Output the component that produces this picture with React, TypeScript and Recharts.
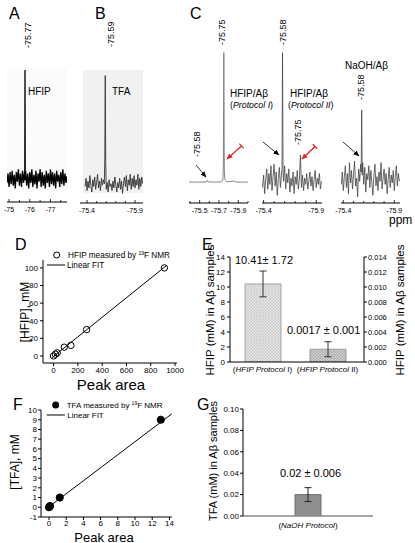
import React from 'react';
import { LineChart, Line, XAxis, YAxis, ComposedChart, Scatter, BarChart, Bar, ErrorBar } from 'recharts';

const FONT = '"Liberation Sans", Arial, Helvetica, sans-serif';

// ---------- 19F NMR spectra: [ppm, intensity (0-100 relative)] ----------
const SPEC_A: [number, number][] = [
  [-74.9, 14], [-74.95, 21], [-75.0, 11], [-75.05, 22], [-75.1, 13], [-75.15, 23], [-75.2, 12], [-75.25, 20],
  [-75.3, 10], [-75.35, 22], [-75.4, 15], [-75.45, 24], [-75.5, 12], [-75.55, 21], [-75.6, 11], [-75.65, 23],
  [-75.7, 14], [-75.75, 22], [-75.76, 19], [-75.77, 97], [-75.78, 16], [-75.8, 23], [-75.85, 12], [-75.9, 21],
  [-75.95, 10], [-76.0, 22], [-76.05, 14], [-76.1, 24], [-76.15, 11], [-76.2, 20], [-76.25, 13], [-76.3, 23],
  [-76.35, 10], [-76.4, 21], [-76.45, 15], [-76.5, 24], [-76.55, 11], [-76.6, 22], [-76.65, 12], [-76.7, 20],
  [-76.75, 10], [-76.8, 23], [-76.85, 14], [-76.9, 21], [-76.95, 11], [-77.0, 24], [-77.05, 13], [-77.1, 22],
  [-77.15, 12], [-77.2, 21], [-77.25, 10], [-77.3, 23], [-77.35, 15], [-77.4, 20], [-77.45, 11], [-77.5, 22],
  [-77.55, 13], [-77.6, 24], [-77.65, 12], [-77.7, 21], [-77.75, 14], [-77.8, 19],
];

const SPEC_B: [number, number][] = [
  [-75.38, 12], [-75.39, 18], [-75.4, 9], [-75.41, 16], [-75.42, 11], [-75.43, 20], [-75.44, 13], [-75.45, 8],
  [-75.46, 17], [-75.47, 12], [-75.48, 19], [-75.49, 10], [-75.5, 15], [-75.51, 21], [-75.52, 11], [-75.53, 16],
  [-75.54, 9], [-75.55, 18], [-75.56, 13], [-75.57, 17], [-75.58, 14], [-75.585, 30], [-75.59, 93], [-75.595, 28],
  [-75.6, 10], [-75.61, 15], [-75.62, 8], [-75.63, 17], [-75.64, 12], [-75.65, 14], [-75.66, 9], [-75.67, 16],
  [-75.68, 11], [-75.69, 19], [-75.7, 13], [-75.71, 8], [-75.72, 15], [-75.73, 11], [-75.74, 18], [-75.75, 10],
  [-75.76, 16], [-75.77, 7], [-75.78, 14], [-75.79, 19], [-75.8, 12], [-75.81, 20], [-75.82, 9], [-75.83, 17],
  [-75.84, 13], [-75.85, 21], [-75.86, 10], [-75.87, 18], [-75.88, 12], [-75.89, 20], [-75.9, 11], [-75.91, 17],
  [-75.92, 13], [-75.93, 21], [-75.94, 10], [-75.95, 18], [-75.96, 12], [-75.97, 19], [-75.98, 14],
];

const SPEC_C1: [number, number][] = [
  [-75.39, 13.5], [-75.5, 13.5], [-75.57, 13.6], [-75.58, 14.6], [-75.59, 13.6], [-75.66, 13.5], [-75.72, 13.6],
  [-75.74, 15], [-75.745, 22], [-75.75, 97], [-75.755, 22], [-75.76, 15], [-75.78, 13.6], [-75.85, 14.2],
  [-75.88, 13.5], [-76.0, 13.5],
];

const SPEC_C2: [number, number][] = [
  [-75.39, 10], [-75.4, 18], [-75.41, 6], [-75.42, 15], [-75.43, 22], [-75.44, 9], [-75.45, 19], [-75.46, 12],
  [-75.47, 24], [-75.48, 8], [-75.49, 17], [-75.5, 25], [-75.51, 11], [-75.52, 20], [-75.53, 5], [-75.54, 16],
  [-75.55, 23], [-75.56, 10], [-75.57, 18], [-75.575, 22], [-75.58, 97], [-75.585, 20], [-75.59, 14], [-75.6, 24],
  [-75.61, 9], [-75.62, 19], [-75.63, 13], [-75.64, 22], [-75.65, 7], [-75.66, 16], [-75.67, 11], [-75.68, 20],
  [-75.69, 6], [-75.7, 17], [-75.71, 12], [-75.72, 21], [-75.73, 9], [-75.74, 15], [-75.75, 31], [-75.76, 10],
  [-75.77, 18], [-75.78, 8], [-75.79, 16], [-75.8, 12], [-75.81, 19], [-75.82, 9], [-75.83, 14], [-75.84, 20],
  [-75.85, 11], [-75.86, 17], [-75.87, 8], [-75.88, 15], [-75.89, 21], [-75.9, 10], [-75.91, 16], [-75.92, 12],
  [-75.93, 19], [-75.94, 9], [-75.95, 14],
];

const SPEC_C3: [number, number][] = [
  [-75.38, 12], [-75.39, 20], [-75.4, 8], [-75.41, 17], [-75.42, 24], [-75.43, 10], [-75.44, 19], [-75.45, 6],
  [-75.46, 26], [-75.47, 13], [-75.48, 21], [-75.49, 9], [-75.5, 18], [-75.51, 27], [-75.52, 11], [-75.53, 16],
  [-75.54, 4], [-75.55, 22], [-75.56, 14], [-75.57, 25], [-75.575, 20], [-75.58, 60], [-75.585, 18], [-75.59, 26],
  [-75.6, 12], [-75.61, 23], [-75.62, 7], [-75.63, 19], [-75.64, 15], [-75.65, 24], [-75.66, 10], [-75.67, 21],
  [-75.68, 13], [-75.69, 5], [-75.7, 18], [-75.71, 25], [-75.72, 11], [-75.73, 17], [-75.74, 8], [-75.75, 20],
  [-75.76, 14], [-75.77, 26], [-75.78, 9], [-75.79, 16], [-75.8, 22], [-75.81, 12], [-75.82, 19], [-75.83, 6],
  [-75.84, 15], [-75.85, 23], [-75.86, 10], [-75.87, 18], [-75.88, 13], [-75.89, 21], [-75.9, 8], [-75.91, 17],
  [-75.92, 24], [-75.93, 11], [-75.94, 19], [-75.95, 14],
];

// ppm axis ticks
const TICKS_A = [-75, -75.5, -76, -76.5, -77, -77.5];
const LABELS_A = [-75, -76, -77];
const TICKS_C1 = [-75.4, -75.5, -75.6, -75.7, -75.8, -75.9, -76.0];
const LABELS_C1 = [-75.5, -75.7, -75.9];
const TICKS_STD = [-75.4, -75.5, -75.6, -75.7, -75.8, -75.9];
const LABELS_STD = [-75.4, -75.9];

// ---------- Panel D: HFIP calibration ----------
const HFIP_AREA = [0, 15, 30, 88, 143, 272, 912];
const HFIP_CONC = [0, 2, 3.5, 10, 12, 30, 100];
const HFIP_FIT_AREA = [-13, 932];
const HFIP_FIT_CONC = [-1.9, 103];
const D_X_TICKS = [0, 200, 400, 600, 800, 1000];
const D_Y_TICKS = [0, 20, 40, 60, 80, 100];

// ---------- Panel E: HFIP in Aβ samples ----------
const E_PROTOCOLS = ['I', 'II'];
const E_MEAN = [10.41, 0.0017];
const E_SD = [1.72, 0.001];
const E_AXIS = ['left', 'right'];
const E_LEFT_TICKS = [0, 2, 4, 6, 8, 10, 12, 14];
const E_RIGHT_TICKS = [0, 0.002, 0.004, 0.006, 0.008, 0.01, 0.012, 0.014];

// ---------- Panel F: TFA calibration ----------
const TFA_AREA = [0, 0.12, 1.25, 13];
const TFA_CONC = [0, 0.13, 1, 9];
const TFA_FIT_AREA = [-0.27, 14.27];
const TFA_FIT_CONC = [-0.13, 9.6];
const F_X_TICKS = [0, 2, 4, 6, 8, 10, 12, 14];
const F_Y_TICKS = [-1, 0, 1, 2, 3, 4, 5, 6, 7, 8, 9, 10];

// ---------- Panel G: TFA in Aβ samples ----------
const G_PROTOCOLS = ['NaOH Protocol'];
const G_MEAN = [0.02];
const G_SD = [0.0065];
const G_Y_TICKS = [0, 0.02, 0.04, 0.06, 0.08, 0.1];

type SpecProps = {
  plotLeft: number; plotRight: number; plotTop: number; axisY: number;
  data: [number, number][]; domain: [number, number]; ticks: number[]; labels: number[];
  color: string; digits: number; strokeWidth?: number;
};

function Spectrum(p: SpecProps) {
  const w = p.plotRight - p.plotLeft;
  const h = p.axisY - p.plotTop;
  const rows = p.data.map(([ppm, v]) => ({ ppm, v }));
  const tick = (tp: any) => {
    const v = Number(tp.payload.value);
    const isLab = p.labels.some((l) => Math.abs(l - v) < 1e-6);
    return (
      <g>
        <line x1={tp.x} x2={tp.x} y1={tp.y} y2={tp.y - (isLab ? 3 : 2)} stroke="#000" strokeWidth={0.8} />
        {isLab ? (
          <text x={tp.x} y={tp.y + 9.5} textAnchor="middle" fontSize={7} fontFamily={FONT} fill="#000">
            {v.toFixed(p.digits)}
          </text>
        ) : null}
      </g>
    );
  };
  return (
    <div style={{ position: 'absolute', left: p.plotLeft - 10, top: p.plotTop }}>
      <LineChart width={w + 20} height={h + 16} data={rows} margin={{ top: 0, right: 10, bottom: 0, left: 10 }}>
        <XAxis
          type="number" dataKey="ppm" domain={p.domain} reversed allowDataOverflow ticks={p.ticks} interval={0}
          tick={tick} tickLine={false} tickSize={0} tickMargin={0} axisLine={{ stroke: '#000', strokeWidth: 1 }} height={16}
        />
        <YAxis hide type="number" domain={[0, 100]} allowDataOverflow />
        <Line type="linear" dataKey="v" stroke={p.color} strokeWidth={p.strokeWidth ?? 0.9} dot={false} isAnimationActive={false} />
      </LineChart>
    </div>
  );
}

const axisLine = { stroke: '#000', strokeWidth: 1 };
const tickLine = { stroke: '#000', strokeWidth: 1 };
const tickStyle = { fontSize: 8, fill: '#000', fontFamily: FONT };

function PanelD() {
  const pts = HFIP_AREA.map((x, i) => ({ x, y: HFIP_CONC[i] }));
  const fit = HFIP_FIT_AREA.map((x, i) => ({ x, y: HFIP_FIT_CONC[i] }));
  return (
    <div style={{ position: 'absolute', left: 0, top: 250 }}>
      <ComposedChart width={192} height={143} margin={{ top: 10, right: 15, bottom: 0, left: 0 }}>
        <XAxis type="number" dataKey="x" domain={[-87, 1016]} allowDataOverflow ticks={D_X_TICKS} interval={0}
          tick={tickStyle} tickLine={tickLine} axisLine={axisLine} tickSize={3} tickMargin={1} height={30} />
        <YAxis type="number" dataKey="y" domain={[-8, 109]} allowDataOverflow ticks={D_Y_TICKS} interval={0}
          tick={tickStyle} tickLine={tickLine} axisLine={axisLine} tickSize={3} tickMargin={2} width={43} />
        <Line data={fit} dataKey="y" stroke="#000" strokeWidth={1} dot={false} isAnimationActive={false} />
        <Scatter data={pts} dataKey="y" isAnimationActive={false}
          shape={(s: any) => <circle cx={s.cx} cy={s.cy} r={3.2} fill="none" stroke="#000" strokeWidth={1} />} />
      </ComposedChart>
    </div>
  );
}

function PanelF() {
  const pts = TFA_AREA.map((x, i) => ({ x, y: TFA_CONC[i] }));
  const fit = TFA_FIT_AREA.map((x, i) => ({ x, y: TFA_FIT_CONC[i] }));
  return (
    <div style={{ position: 'absolute', left: 0, top: 400 }}>
      <ComposedChart width={182} height={145} margin={{ top: 10, right: 10, bottom: 0, left: 0 }}>
        <XAxis type="number" dataKey="x" domain={[-0.93, 14.3]} allowDataOverflow ticks={F_X_TICKS} interval={0}
          tick={tickStyle} tickLine={tickLine} axisLine={axisLine} tickSize={3} tickMargin={0} height={28} />
        <YAxis type="number" dataKey="y" domain={[-1, 10]} allowDataOverflow ticks={F_Y_TICKS} interval={0}
          tick={tickStyle} tickLine={tickLine} axisLine={axisLine} tickSize={3} tickMargin={1} width={41} />
        <Line data={fit} dataKey="y" stroke="#000" strokeWidth={1} dot={false} isAnimationActive={false} />
        <Scatter data={pts} dataKey="y" isAnimationActive={false}
          shape={(s: any) => <circle cx={s.cx} cy={s.cy} r={3.6} fill="#000" stroke="#000" />} />
      </ComposedChart>
    </div>
  );
}

function PanelE() {
  const rows = E_PROTOCOLS.map((name, i) => ({
    name,
    [E_AXIS[i]]: E_MEAN[i],
    [E_AXIS[i] + 'Err']: E_SD[i],
  }));
  const catTick = (tp: any) => (
    <text x={tp.x} y={tp.y + 10} textAnchor="middle" fontSize={8} fontFamily={FONT} fill="#000">
      <tspan>(</tspan>
      <tspan fontStyle="italic">HFIP Protocol</tspan>
      <tspan> {tp.payload.value})</tspan>
    </text>
  );
  return (
    <div style={{ position: 'absolute', left: 200, top: 247 }}>
      <BarChart width={194} height={135} data={rows} margin={{ top: 10, right: 0, bottom: 0, left: 0 }} barGap={-36}>
        <defs>
          <pattern id="hatchE1" width="3" height="3" patternUnits="userSpaceOnUse">
            <rect width="3" height="3" fill="#e3e3e3" />
            <path d="M0,3 L3,0 M0,0 L3,3" stroke="#c6c6c6" strokeWidth="0.6" />
          </pattern>
          <pattern id="hatchE2" width="3" height="3" patternUnits="userSpaceOnUse">
            <rect width="3" height="3" fill="#cbcbcb" />
            <path d="M0,3 L3,0 M0,0 L3,3" stroke="#a9a9a9" strokeWidth="0.6" />
          </pattern>
        </defs>
        <XAxis dataKey="name" tick={catTick} tickLine={false} tickSize={0} tickMargin={0} axisLine={axisLine}
          height={20} padding={{ left: 0, right: 4 }} interval={0} />
        <YAxis yAxisId="left" type="number" domain={[0, 14]} ticks={E_LEFT_TICKS} interval={0} allowDataOverflow
          tick={tickStyle} tickLine={tickLine} axisLine={axisLine} tickSize={3} tickMargin={2} width={30} />
        <YAxis yAxisId="right" orientation="right" type="number" domain={[0, 0.014]} ticks={E_RIGHT_TICKS} interval={0}
          allowDataOverflow tickFormatter={(v: number) => v.toFixed(3)}
          tick={{ ...tickStyle, fontSize: 7.5 }} tickLine={tickLine} axisLine={axisLine} tickSize={3} tickMargin={1} width={30} />
        <Bar yAxisId="left" dataKey="left" fill="url(#hatchE1)" stroke="#a3a3a3" strokeWidth={1} barSize={36} isAnimationActive={false}>
          <ErrorBar dataKey="leftErr" width={3.5} stroke="#333" strokeWidth={1} direction="y" />
        </Bar>
        <Bar yAxisId="right" dataKey="right" fill="url(#hatchE2)" stroke="#999" strokeWidth={1} barSize={36} isAnimationActive={false}>
          <ErrorBar dataKey="rightErr" width={3.5} stroke="#333" strokeWidth={1} direction="y" />
        </Bar>
      </BarChart>
    </div>
  );
}

function PanelG() {
  const rows = G_PROTOCOLS.map((name, i) => ({ name, tfa: G_MEAN[i], err: G_SD[i] }));
  const catTick = (tp: any) => (
    <text x={tp.x} y={tp.y + 12} textAnchor="middle" fontSize={8} fontFamily={FONT} fill="#000">
      <tspan>(</tspan>
      <tspan fontStyle="italic">{tp.payload.value}</tspan>
      <tspan>)</tspan>
    </text>
  );
  return (
    <div style={{ position: 'absolute', left: 208, top: 399 }}>
      <BarChart width={175} height={137} data={rows} margin={{ top: 10, right: 10, bottom: 0, left: 0 }}>
        <defs>
          <pattern id="hatchG" width="3" height="3" patternUnits="userSpaceOnUse">
            <rect width="3" height="3" fill="#919191" />
            <path d="M0,3 L3,0" stroke="#828282" strokeWidth="0.6" />
          </pattern>
        </defs>
        <XAxis dataKey="name" tick={catTick} tickLine={false} tickSize={0} tickMargin={0}
          axisLine={{ stroke: '#8a8a8a', strokeWidth: 1.3 }} height={20} interval={0} />
        <YAxis type="number" domain={[0, 0.1]} ticks={G_Y_TICKS} interval={0} allowDataOverflow
          tickFormatter={(v: number) => v.toFixed(2)}
          tick={tickStyle} tickLine={tickLine} axisLine={axisLine} tickSize={3} tickMargin={1} width={35} />
        <Bar dataKey="tfa" fill="url(#hatchG)" stroke="#6f6f6f" strokeWidth={1} barSize={26} isAnimationActive={false}>
          <ErrorBar dataKey="err" width={3.5} stroke="#222" strokeWidth={1} direction="y" />
        </Bar>
      </BarChart>
    </div>
  );
}

function VText({ x, y, size, children, anchor = 'start' }: any) {
  return (
    <text transform={`translate(${x},${y}) rotate(-90)`} fontSize={size} textAnchor={anchor} fill="#000">
      {children}
    </text>
  );
}

function Inhibit({ x1, y1, x2, y2 }: any) {
  const dx = x2 - x1;
  const dy = y2 - y1;
  const len = Math.sqrt(dx * dx + dy * dy);
  const px = (-dy / len) * 3.2;
  const py = (dx / len) * 3.2;
  return (
    <g stroke="#e0262b" strokeWidth={1.3}>
      <line x1={x1} y1={y1} x2={x2} y2={y2} markerEnd="url(#arrRed)" />
      <line x1={x1 - px} y1={y1 - py} x2={x1 + px} y2={y1 + py} />
    </g>
  );
}

function Overlay() {
  return (
    <svg width={415} height={543} style={{ position: 'absolute', left: 0, top: 0, pointerEvents: 'none' }} fontFamily={FONT}>
      <defs>
        <marker id="arrBlack" markerWidth="6" markerHeight="6" refX="5.5" refY="3" orient="auto" markerUnits="userSpaceOnUse">
          <path d="M0,0.5 L6,3 L0,5.5 z" fill="#000" />
        </marker>
        <marker id="arrRed" markerWidth="6" markerHeight="6" refX="5.5" refY="3" orient="auto" markerUnits="userSpaceOnUse">
          <path d="M0,0.3 L6,3 L0,5.7 z" fill="#e0262b" />
        </marker>
      </defs>
      {/* panel letters */}
      <g fontSize={16} fill="#000">
        <text x={9} y={19}>A</text>
        <text x={95} y={19}>B</text>
        <text x={190} y={19}>C</text>
        <text x={15} y={250}>D</text>
        <text x={202} y={250}>E</text>
        <text x={13} y={410}>F</text>
        <text x={197} y={410}>G</text>
      </g>
      {/* peak shift labels */}
      <VText x={31} y={48} size={9}>-75.77</VText>
      <VText x={114} y={47} size={9}>-75.59</VText>
      <VText x={225} y={45} size={9}>-75.75</VText>
      <VText x={286} y={45} size={9}>-75.58</VText>
      <VText x={301} y={145} size={9}>-75.75</VText>
      <VText x={364} y={100} size={9}>-75.58</VText>
      <VText x={200} y={157} size={9}>-75.58</VText>
      {/* spectrum labels */}
      <g fontSize={10} fill="#000">
        <text x={28} y={95}>HFIP</text>
        <text x={112} y={95}>TFA</text>
        <text x={230} y={97}>HFIP/Aβ</text>
        <text x={290} y={97}>HFIP/Aβ</text>
        <text x={345} y={69}>NaOH/Aβ</text>
      </g>
      <g fontSize={8.8} fill="#000">
        <text x={230} y={108}>(<tspan fontStyle="italic">Protocol I</tspan>)</text>
        <text x={288} y={108}>(<tspan fontStyle="italic">Protocol II</tspan>)</text>
      </g>
      <text x={389} y={224} fontSize={12} fill="#000">ppm</text>
      {/* arrows */}
      <g stroke="#000" strokeWidth={0.8}>
        <line x1={196} y1={165} x2={206} y2={177} markerEnd="url(#arrBlack)" />
        <line x1={263} y1={142} x2={279} y2={155} markerEnd="url(#arrBlack)" />
        <line x1={343} y1={142} x2={359} y2={156} markerEnd="url(#arrBlack)" />
      </g>
      <Inhibit x1={241.5} y1={146} x2={227} y2={159} />
      <Inhibit x1={315} y1={146.5} x2={302} y2={159} />
      {/* axis titles */}
      <VText x={29} y={312} size={12} anchor="middle">[HFIP], mM</VText>
      <text x={111} y={390} fontSize={15} textAnchor="middle" fill="#000">Peak area</text>
      <VText x={214} y={310} size={11.5} anchor="middle">HFIP (mM) in Aβ samples</VText>
      <VText x={404} y={310} size={11.5} anchor="middle">HFIP (mM) in Aβ samples</VText>
      <VText x={19} y={462} size={12} anchor="middle">[TFA], mM</VText>
      <text x={104} y={541.5} fontSize={13} textAnchor="middle" fill="#000">Peak area</text>
      <VText x={217} y={461} size={11} anchor="middle">TFA (mM) in Aβ samples</VText>
      {/* legends */}
      <circle cx={56.7} cy={255} r={3} fill="none" stroke="#000" strokeWidth={1} />
      <text x={68} y={258} fontSize={8.2} fill="#000">
        HFIP measured by <tspan fontSize={5} dy={-3}>19</tspan><tspan dy={3}>F NMR</tspan>
      </text>
      <line x1={47} y1={265} x2={65} y2={265} stroke="#000" strokeWidth={1} />
      <text x={67} y={268} fontSize={8.2} fill="#000">Linear FIT</text>
      <circle cx={55.7} cy={405} r={3.5} fill="#000" />
      <text x={66.7} y={408} fontSize={8} fill="#000">
        TFA measured by <tspan fontSize={5} dy={-3}>19</tspan><tspan dy={3}>F NMR</tspan>
      </text>
      <line x1={46.7} y1={415} x2={65} y2={415} stroke="#000" strokeWidth={1} />
      <text x={67.3} y={418} fontSize={8} fill="#000">Linear FIT</text>
      {/* value labels */}
      <text x={235} y={264} fontSize={11} fill="#000">10.41± 1.72</text>
      <text x={287} y={334} fontSize={11} fill="#000">0.0017 ± 0.001</text>
      <text x={280} y={477} fontSize={11} fill="#000">0.02 ± 0.006</text>
    </svg>
  );
}

export default function App() {
  return (
    <div style={{ position: 'absolute', left: 0, top: 0, width: 415, height: 543, background: '#fff', overflow: 'hidden', fontFamily: FONT }}>
      <div style={{ position: 'absolute', left: 7, top: 68, width: 60, height: 124, background: '#fbfbfb' }} />
      <div style={{ position: 'absolute', left: 83, top: 70, width: 60, height: 123, background: '#f1f1f1' }} />
      <Spectrum plotLeft={7} plotRight={67} plotTop={66} axisY={202} data={SPEC_A} domain={[-77.8, -74.9]}
        ticks={TICKS_A} labels={LABELS_A} color="#000" digits={0} strokeWidth={1.3} />
      <Spectrum plotLeft={80} plotRight={143} plotTop={66} axisY={203} data={SPEC_B} domain={[-75.983, -75.327]}
        ticks={TICKS_STD} labels={LABELS_STD} color="#333" digits={1} />
      <Spectrum plotLeft={189} plotRight={248} plotTop={48} axisY={203} data={SPEC_C1} domain={[-76.0, -75.39]}
        ticks={TICKS_C1} labels={LABELS_C1} color="#777" digits={1} />
      <Spectrum plotLeft={262} plotRight={322} plotTop={48} axisY={203} data={SPEC_C2} domain={[-75.955, -75.385]}
        ticks={TICKS_STD} labels={LABELS_STD} color="#444" digits={1} strokeWidth={0.8} />
      <Spectrum plotLeft={341} plotRight={400} plotTop={48} axisY={203} data={SPEC_C3} domain={[-75.956, -75.377]}
        ticks={TICKS_STD} labels={LABELS_STD} color="#444" digits={1} strokeWidth={0.8} />
      <PanelD />
      <PanelE />
      <PanelF />
      <PanelG />
      <Overlay />
    </div>
  );
}
